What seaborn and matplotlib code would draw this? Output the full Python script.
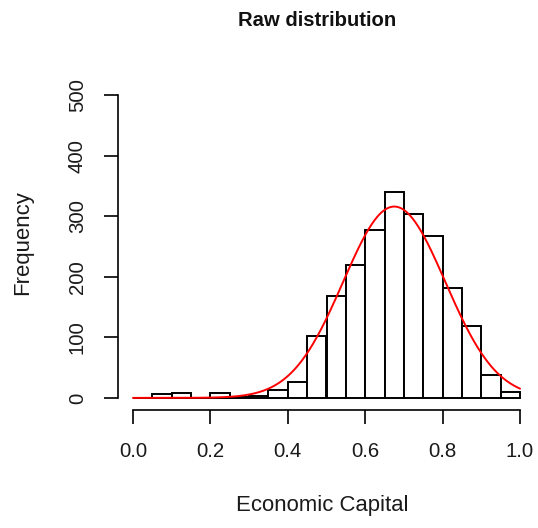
import numpy as np
import pandas as pd
import matplotlib
matplotlib.use("Agg")
import matplotlib.pyplot as plt
import seaborn as sns

# Histogram bins (width 0.05) and counts
bin_edges = [0.00, 0.05, 0.10, 0.15, 0.20, 0.25, 0.30, 0.35, 0.40, 0.45, 0.50,
             0.55, 0.60, 0.65, 0.70, 0.75, 0.80, 0.85, 0.90, 0.95, 1.00]
counts = [0, 6, 8, 0, 8, 2, 3, 13, 26, 102, 168, 220, 277, 340, 304, 267, 181, 119, 38, 9]

# Fitted normal curve parameters
fit_mean = 0.675
fit_sd = 0.132

x_ticks = [0.0, 0.2, 0.4, 0.6, 0.8, 1.0]
x_ticklabels = ["0.0", "0.2", "0.4", "0.6", "0.8", "1.0"]
y_ticks = [0, 100, 200, 300, 400, 500]
y_ticklabels = ["0", "100", "200", "300", "400", "500"]

title = "Raw distribution"
xlabel = "Economic Capital"
ylabel = "Frequency"

sns.set_style("white")
plt.rcParams["font.family"] = ["Liberation Sans", "DejaVu Sans"]

W, H, DPI = 538, 528, 100
fig = plt.figure(figsize=(W / DPI, H / DPI), dpi=DPI)
left, right, top, bottom = 117.5, 535.5, 83, 410
ax = fig.add_axes([left / W, 1 - bottom / H, (right - left) / W, (bottom - top) / H])

centers = [(bin_edges[i] + bin_edges[i + 1]) / 2 for i in range(len(counts))]
df = pd.DataFrame({"x": centers, "w": counts})
sns.histplot(data=df, x="x", weights="w", bins=bin_edges, ax=ax,
             color="white", edgecolor="black", linewidth=1.4, alpha=1)

binw = bin_edges[1] - bin_edges[0]
n_total = sum(counts)
xs = np.linspace(bin_edges[0], bin_edges[-1], 400)
ys = n_total * binw * np.exp(-0.5 * ((xs - fit_mean) / fit_sd) ** 2) / (fit_sd * np.sqrt(2 * np.pi))
sns.lineplot(x=xs, y=ys, ax=ax, color="#ff0000", linewidth=1.4)

ax.set_xlim(-0.04, 1.04)
ax.set_ylim(-20, 520)
ax.set_xticks(x_ticks)
ax.set_xticklabels(x_ticklabels)
ax.set_yticks(y_ticks)
ax.set_yticklabels(y_ticklabels, rotation=90, va="center")
ax.set_xlabel("")
ax.set_ylabel("")

for s in ["top", "right"]:
    ax.spines[s].set_visible(False)
ax.spines["bottom"].set_bounds(0, 1)
ax.spines["left"].set_bounds(0, 500)
for s in ["bottom", "left"]:
    ax.spines[s].set_linewidth(1.2)
    ax.spines[s].set_color("black")

ax.tick_params(axis="both", direction="out", length=10, width=1.2, color="black",
               labelsize=14.7, labelcolor="#1a1a1a")
ax.tick_params(axis="x", pad=13, bottom=True)
ax.tick_params(axis="y", pad=12, left=True)

fig.text(317.5 / W, 1 - 20 / H, title, ha="center", va="center",
         fontsize=14.6, fontweight="bold", color="#111111")
fig.text(322.5 / W, 1 - 505 / H, xlabel, ha="center", va="center",
         fontsize=15.9, color="#1a1a1a")
fig.text(22.5 / W, 1 - 243 / H, ylabel, ha="center", va="center",
         rotation=90, fontsize=15.9, color="#1a1a1a")

fig.savefig("out.png", dpi=DPI, facecolor="white")
